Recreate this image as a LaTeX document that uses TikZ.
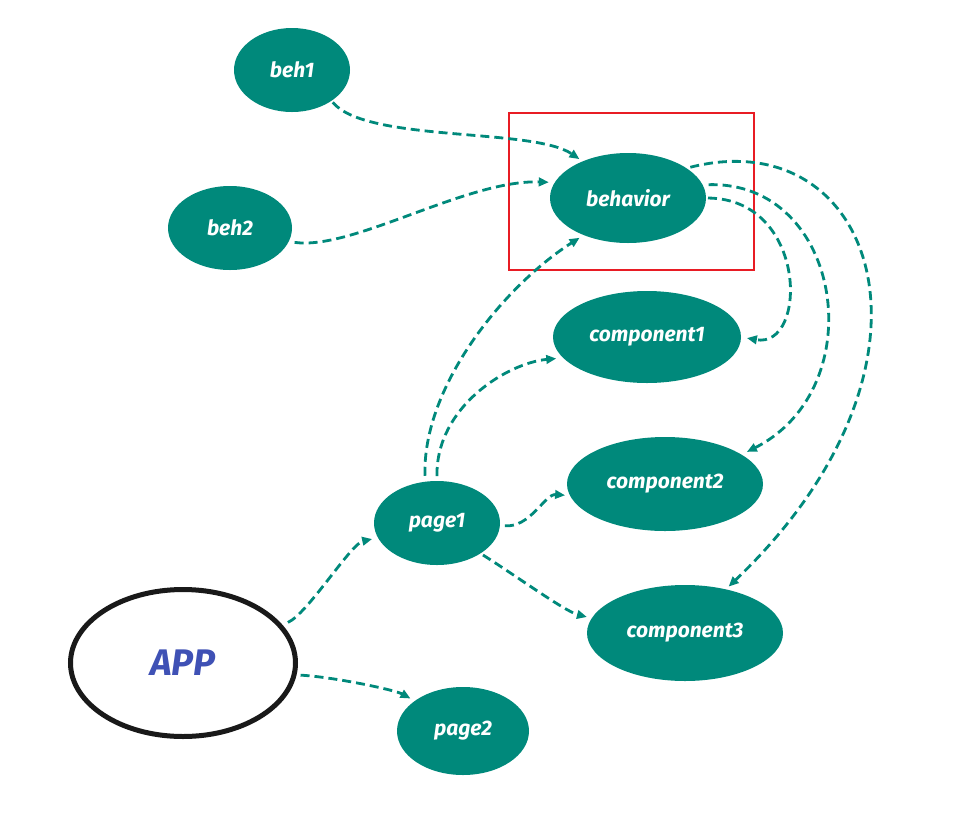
\documentclass[tikz,border=0pt]{standalone}
\usepackage{fontspec}
\setmainfont{Fira Sans}
\usetikzlibrary{arrows.meta,shapes.geometric}
\definecolor{tealA}{RGB}{0,137,123}
\definecolor{redA}{RGB}{232,28,36}
\definecolor{indigoA}{RGB}{63,81,181}
\begin{document}
\begin{tikzpicture}[x=1pt,y=-1pt,
  nd/.style={ellipse, fill=tealA, text=white, inner sep=0pt, outer sep=0pt,
    font=\fontsize{21}{24}\selectfont\bfseries\itshape},
  edge/.style={draw=tealA, line width=2.8pt, dash pattern=on 9pt off 5pt,
    -{Triangle[length=10pt,width=8.5pt]}}]
\useasboundingbox[fill=white] (0,0) rectangle (967,812);

% highlight box
\draw[redA, line width=2pt] (509,113) rectangle (754,270);

% nodes
\node[nd, minimum width=116pt, minimum height=84pt] (beh1) at (292,70) {beh1};
\node[nd, minimum width=124pt, minimum height=84pt] (beh2) at (230,228) {beh2};
\node[nd, minimum width=156pt, minimum height=90pt] (behavior) at (628,198) {behavior};
\node[nd, minimum width=188pt, minimum height=92pt] (component1) at (647,337) {component1};
\node[nd, minimum width=196pt, minimum height=94pt] (component2) at (665,484) {component2};
\node[nd, minimum width=196pt, minimum height=96pt] (component3) at (685,633) {component3};
\node[nd, minimum width=126pt, minimum height=84pt] (page1) at (437,523) {page1};
\node[nd, minimum width=132pt, minimum height=88pt] (page2) at (463,731) {page2};
\node[ellipse, draw=black!90, line width=5pt, fill=white, inner sep=0pt,
  minimum width=225pt, minimum height=147pt, text=indigoA,
  font=\fontsize{37}{40}\selectfont\bfseries\itshape] (APP) at (183,663) {APP};

% connectors
\draw[edge, shorten <=2pt, shorten >=4pt] (beh1.-38) .. controls +(35,42) and +(-50,-34) .. (behavior.141);
\draw[edge, shorten <=6pt, shorten >=6pt] (beh2.-13) .. controls +(64,9) and +(-88,-3) .. (behavior.168);
\draw[edge, shorten <=2pt, shorten >=6pt] (behavior.0) .. controls +(102,1) and +(67,12) .. (component1.0);
\draw[edge, shorten <=6pt, shorten >=6pt] (behavior.10) .. controls +(140,-4) and +(132,-67) .. (component2.21);
\draw[edge, shorten <=4pt, shorten >=4pt] (behavior.27) .. controls +(190,-48) and +(236,-225) .. (component3.47);
\draw[edge, shorten <=6pt, shorten >=5pt] (page1.106) .. controls +(-3,-95) and +(-80,51) .. (behavior.-140);
\draw[edge, shorten <=5pt, shorten >=7pt] (page1.90) .. controls +(-1,-75) and +(-55,5) .. (component1.-166);
\draw[edge, shorten <=5pt, shorten >=5pt] (page1.-2) .. controls +(30,3) and +(-25,-2) .. (component2.-173);
\draw[edge, shorten <=3pt, shorten >=5pt] (page1.-35) .. controls +(35,22) and +(-27,-7) .. (component3.171);
\draw[edge, shorten <=6pt, shorten >=6pt] (APP.21) .. controls +(25,-11) and +(-27,6) .. (page1.-166);
\draw[edge, shorten <=4pt, shorten >=5pt] (APP.-6) .. controls +(37,2) and +(-20,-11) .. (page2.148);
\end{tikzpicture}
\end{document}
